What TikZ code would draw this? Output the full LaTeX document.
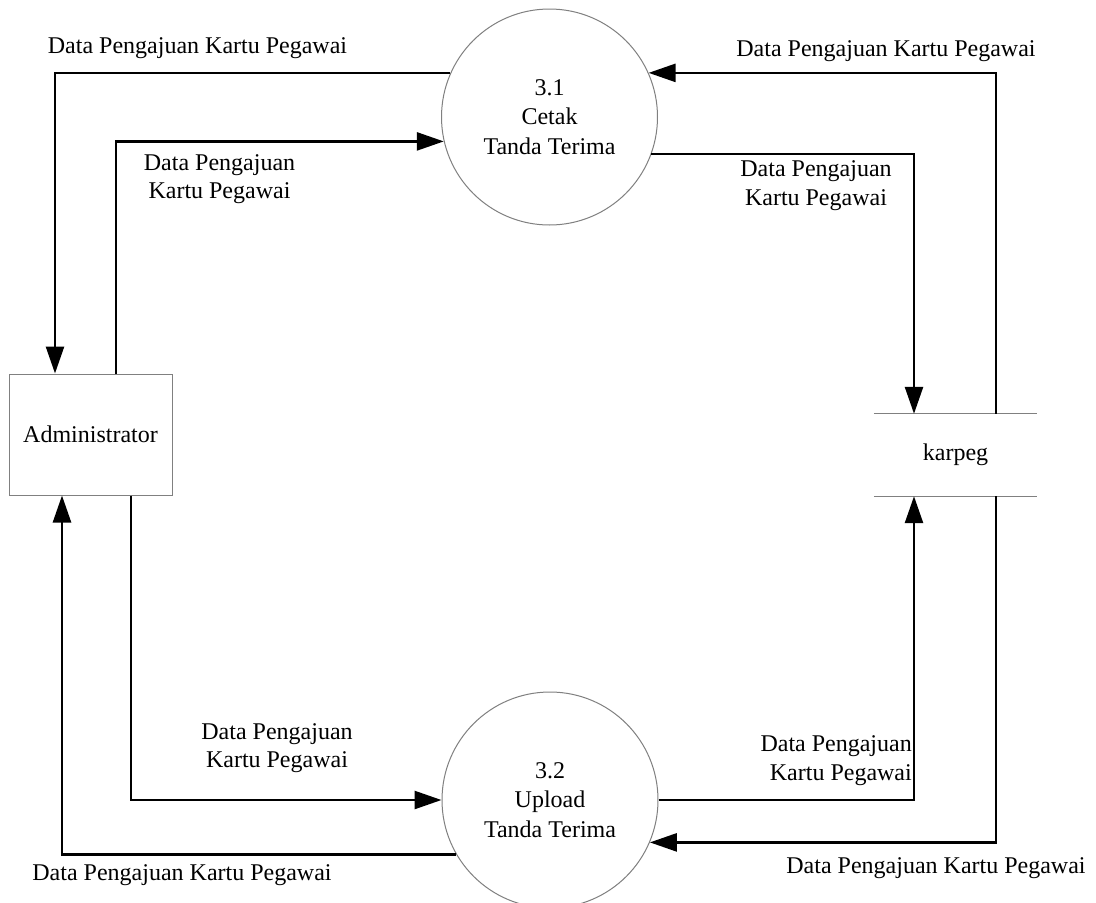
\documentclass[tikz,border=0pt]{standalone}
\usepackage{fontspec}
\setmainfont{Liberation Serif}
\usetikzlibrary{arrows.meta}
\begin{document}
\begin{tikzpicture}[x=1pt,y=-1pt,
  txt/.style={font=\fontsize{24}{28.5}\selectfont, inner sep=0pt, align=center},
  proc/.style={circle, draw=gray, line width=1pt, minimum size=216pt, inner sep=0pt, align=center, font=\fontsize{24}{29.5}\selectfont},
  ent/.style={rectangle, draw=gray, line width=1pt, minimum width=163pt, minimum height=121pt, inner sep=0pt, font=\fontsize{24}{28.5}\selectfont},
  store/.style={rectangle, minimum width=163pt, minimum height=82pt, inner sep=0pt, font=\fontsize{24}{28.5}\selectfont},
  flow/.style={line width=2.6pt, -{Triangle[length=27pt,width=18pt]}}
]
\useasboundingbox (0,0) rectangle (1096,903);
\fill[white] (0,0) rectangle (1096,903);

\node[proc] (c1) at (549.5,117) {3.1\\Cetak\\Tanda Terima};
\node[proc] (c2) at (550,800) {3.2\\Upload\\Tanda Terima};
\node[ent] (admin) at (90.5,434.5) {Administrator};
\node[store] (k) at (955.5,455) {karpeg};
\draw[gray, line width=1pt] (k.north west) -- (k.north east);
\draw[gray, line width=1pt] (k.south west) -- (k.south east);

% connectors
\draw[flow] (c1.156) -| ([xshift=-35.5pt]admin.north);
\draw[flow] ([xshift=25.5pt]admin.north) |- (c1.193);
\draw[flow] (c1.340) -| ([xshift=-41.5pt]k.north);
\draw[flow] ([xshift=40.5pt]k.north) |- (c1.24);
\draw[flow] ([xshift=40.5pt]admin.south) |- (c2.west);
\draw[flow] (c2.210) -| ([xshift=-28.5pt]admin.south);
\draw[flow] (c2.east) -| ([xshift=-41.5pt]k.south);
\draw[flow] ([xshift=40.5pt]k.south) |- (c2.337);

% labels
\node[txt] (l1) at (197.5,48.5) {Data Pengajuan Kartu Pegawai};
\node[txt] (l2) at (219.5,179) {Data Pengajuan\\Kartu Pegawai};
\node[txt] (l3) at (816,185.5) {Data Pengajuan\\Kartu Pegawai};
\node[txt] (l4) at (886,51.5) {Data Pengajuan Kartu Pegawai};
\node[txt] (l5) at (277,748) {Data Pengajuan\\Kartu Pegawai};
\node[txt] (l6) at (182,875.5) {Data Pengajuan Kartu Pegawai};
\node[txt, align=right, anchor=east] (l7) at (912,760.5) {Data Pengajuan\\Kartu Pegawai};
\node[txt] (l8) at (936,868.5) {Data Pengajuan Kartu Pegawai};
\end{tikzpicture}
\end{document}
